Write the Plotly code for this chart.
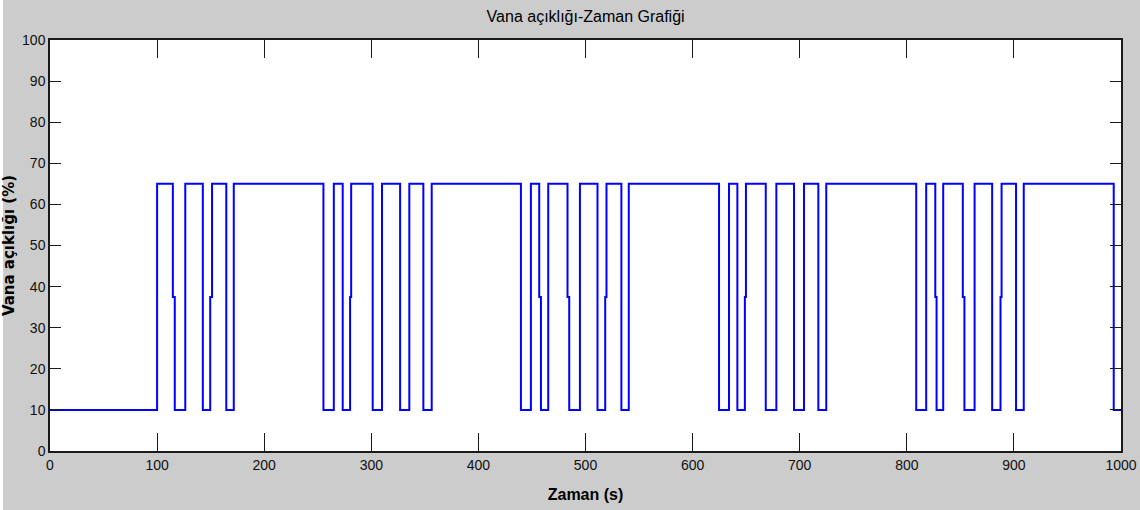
import plotly.graph_objects as go

# Switching instants (s) and the valve opening (%) held after each instant
switch_times = [0, 100, 114.7, 116.5, 126.3, 142.7, 149.6, 151.3, 164.6, 171.6,
                255.3, 265.0, 273.3, 280.2, 281.2, 301.3, 310.0, 326.9, 335.5, 348.6, 356.4,
                439.7, 449.0, 456.8, 458.4, 465.2, 483.2, 484.8, 494.8, 511.2, 518.4, 519.6, 533.5, 540.4,
                624.7, 634.0, 641.8, 648.8, 649.8, 668.3, 678.2, 694.7, 704.0, 717.4, 724.8,
                808.8, 818.1, 826.6, 827.8, 834.0, 852.3, 853.8, 863.3, 879.7, 887.5, 888.5, 902.0, 909.2,
                993.2, 1000]
opening = [10, 65, 37.5, 10, 65, 10, 37.5, 65, 10, 65,
           10, 65, 10, 37.5, 65, 10, 65, 10, 65, 10, 65,
           10, 65, 37.5, 10, 65, 37.5, 10, 65, 10, 37.5, 65, 10, 65,
           10, 65, 10, 37.5, 65, 10, 65, 10, 65, 10, 65,
           10, 65, 37.5, 10, 65, 37.5, 10, 65, 10, 37.5, 65, 10, 65,
           10, 10]

x_ticks = [0, 100, 200, 300, 400, 500, 600, 700, 800, 900, 1000]
y_ticks = [0, 10, 20, 30, 40, 50, 60, 70, 80, 90, 100]

NARROW = "Liberation Sans Narrow, Arial Narrow, Liberation Sans, Arial, sans-serif"

fig = go.Figure()
fig.add_trace(go.Scatter(
    x=switch_times, y=opening, mode="lines", line_shape="hv",
    line=dict(color="#0000FF", width=2), showlegend=False, hoverinfo="x+y"))

axis_common = dict(
    showgrid=False, zeroline=False, showline=True, linecolor="#1a1a1a", linewidth=1.5,
    mirror="ticks", ticks="inside", tickcolor="#1a1a1a", tickwidth=1, automargin=False,
    tickfont=dict(family=NARROW, size=14, color="#111111"),
)

fig.update_layout(
    width=1140, height=510,
    margin=dict(l=50, r=19, t=40, b=59),
    paper_bgcolor="#CCCCCC", plot_bgcolor="#FFFFFF",
    title=dict(text="Vana açıklığı-Zaman Grafiği", x=0.5137, xanchor="center",
               y=1 - 16 / 510, yanchor="middle", yref="container",
               font=dict(family=NARROW, size=16, color="#000000")),
    xaxis=dict(range=[0, 1000], tickvals=x_ticks, ticklen=18,
               title=dict(text="<b>Zaman (s)</b>", standoff=17,
                          font=dict(family=NARROW, size=16, color="#000000")),
               **axis_common),
    yaxis=dict(range=[0, 100], tickvals=y_ticks, ticklen=11,
               title=dict(text="<b>Vana açıklığı (%)</b>", standoff=6,
                          font=dict(family="DejaVu Sans, Arial, sans-serif", size=15, color="#000000")),
               **axis_common),
    shapes=[
        dict(type="rect", xref="paper", yref="paper", layer="above",
             x0=-50 / 1071, x1=(1140 - 50) / 1071, y0=451 / 411, y1=(451 + 2) / 411,
             fillcolor="#FFFFFF", line=dict(width=0)),
        dict(type="rect", xref="paper", yref="paper", layer="above",
             x0=-50 / 1071, x1=-47 / 1071, y0=-59 / 411, y1=(451 + 2) / 411,
             fillcolor="#FFFFFF", line=dict(width=0)),
    ],
)

fig.write_html("out.html")
